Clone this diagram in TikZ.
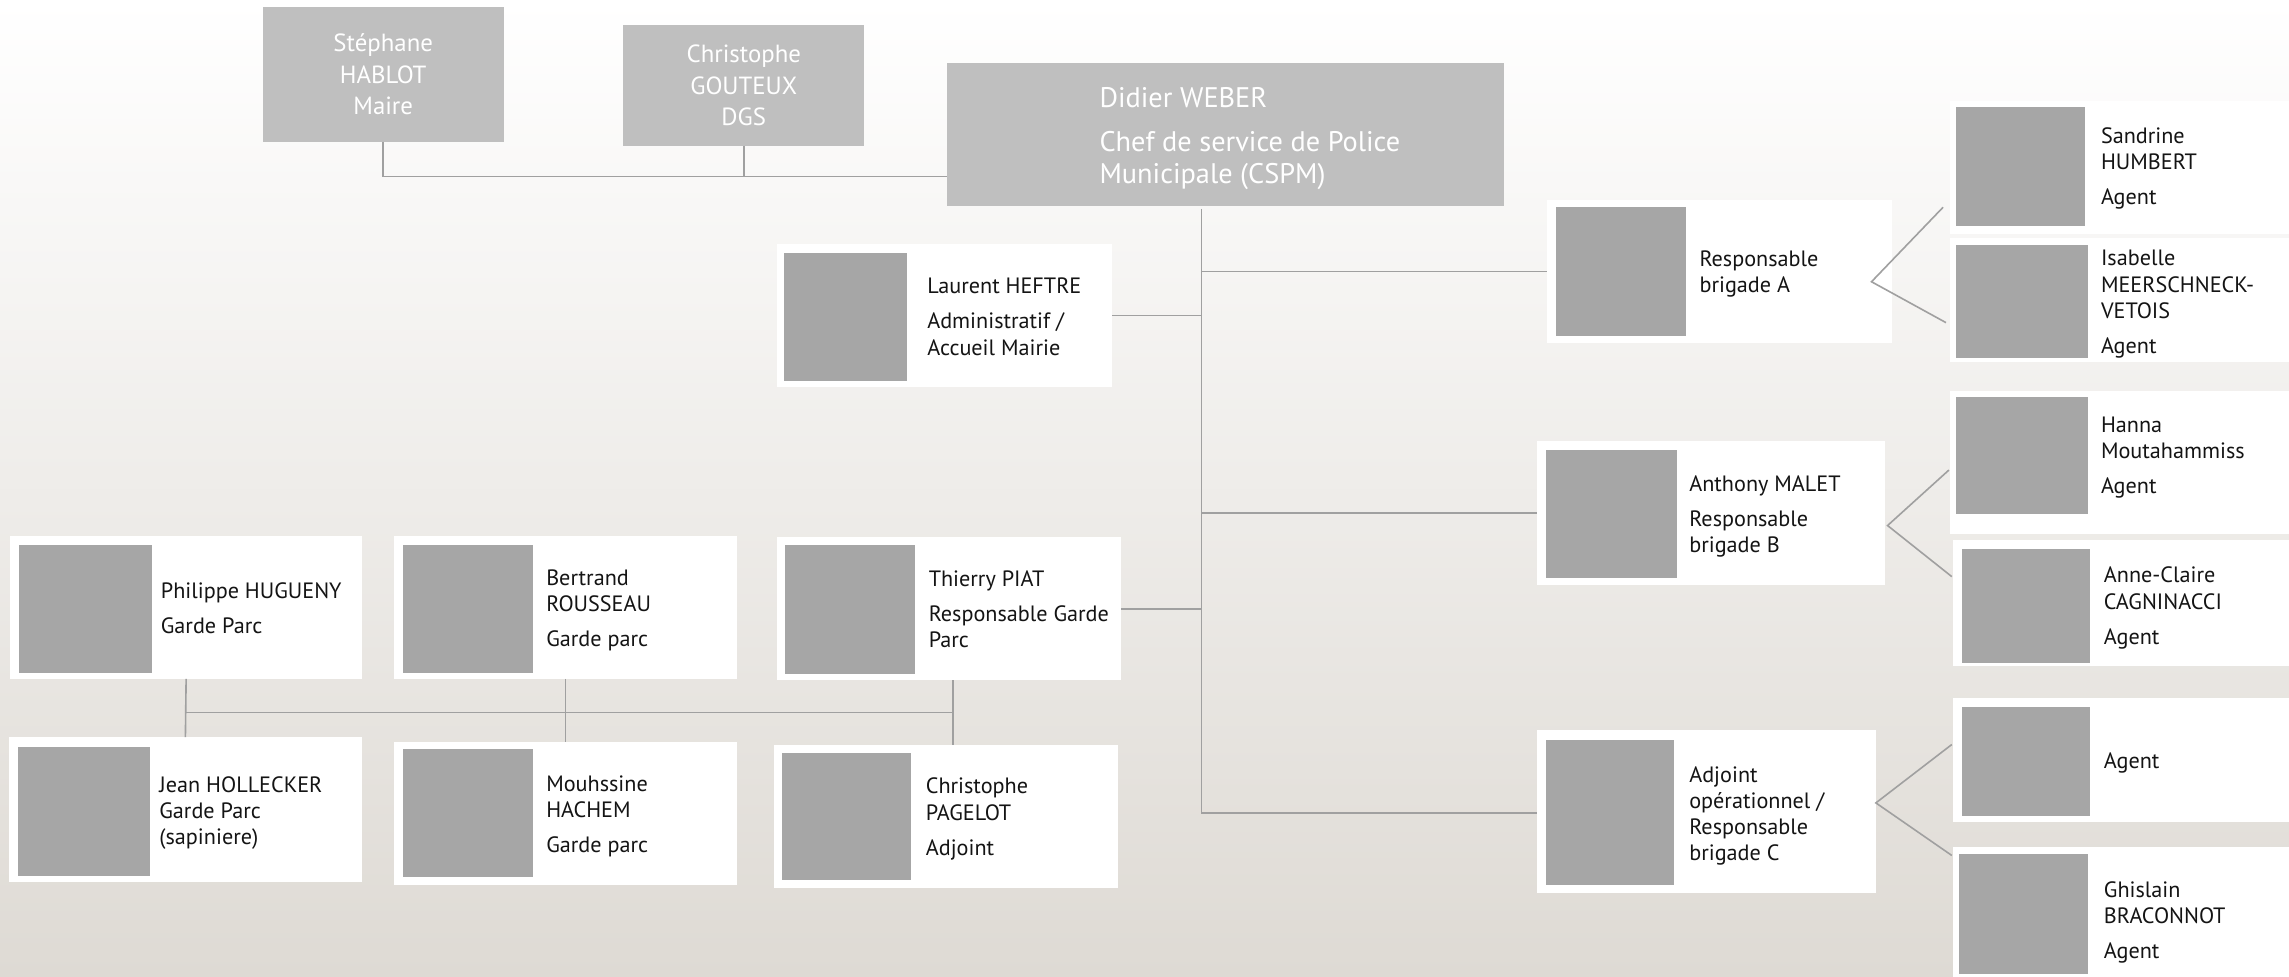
\documentclass[tikz,border=0pt]{standalone}
\usepackage{fontspec}
\setmainfont{PT Sans}
\definecolor{topgray}{RGB}{191,191,191}
\definecolor{photogray}{RGB}{166,166,166}
\definecolor{linegray}{RGB}{160,160,160}
\definecolor{bgbot}{RGB}{222,218,212}
\definecolor{bgmid}{RGB}{243,242,239}
\definecolor{ink}{RGB}{20,20,20}
\begin{document}
\begin{tikzpicture}[x=1pt,y=-1pt,
  card/.style={draw=none,fill=white,anchor=north west,inner sep=0pt,outer sep=0pt},
  photo/.style={draw=none,fill=photogray,anchor=north west,inner sep=0pt,outer sep=0pt},
  txt/.style={anchor=west,align=left,inner sep=0pt,text=ink,yshift=-3pt,
     font=\fontsize{15.2}{18}\selectfont,
     execute at begin node=\strut, execute at end node=\strut},
  topbox/.style={draw=none,fill=topgray,anchor=north west,inner sep=0pt,outer sep=0pt,
     text=white,align=center,font=\fontsize{17}{21.5}\selectfont},
  conn/.style={draw=linegray,line width=1.1pt}]
\useasboundingbox (0,0) rectangle (1568,669);
\shade[top color=white,middle color=bgmid,bottom color=bgbot] (0,0) rectangle (1568,669);

% top gray boxes
\node[topbox,minimum width=165pt,minimum height=92pt] (hab) at (180,5) {Stéphane\\HABLOT\\Maire};
\node[topbox,minimum width=165pt,minimum height=83pt] (gou) at (427,17) {Christophe\\GOUTEUX\\DGS};
\node[topbox,minimum width=381pt,minimum height=98pt] (web) at (649,43) {};
\node[anchor=west,align=left,inner sep=0pt,text=white,font=\fontsize{19.4}{22}\selectfont,
  execute at begin node=\strut, execute at end node=\strut] (webt) at (753,96)
  {Didier WEBER\\[8pt]Chef de service de Police\\Municipale (CSPM)};

% cards
\node[card,minimum width=230pt,minimum height=98pt] (lau) at (532,167) {};
\node[photo,minimum width=84pt,minimum height=88pt] (laup) at (537,173) {};
\node[txt] (laut) at (635,216.5) {Laurent HEFTRE\\[6pt]Administratif /\\Accueil Mairie};

\node[card,minimum width=236pt,minimum height=98pt] (bra) at (1060,137) {};
\node[photo,minimum width=89pt,minimum height=88pt] (brap) at (1066,142) {};
\node[txt] (brat) at (1164,186) {Responsable\\brigade A};

\node[card,minimum width=234pt,minimum height=91pt] (san) at (1336,69) {};
\node[photo,minimum width=88pt,minimum height=82pt] (sanp) at (1340,73) {};
\node[txt] (sant) at (1439,113.5) {Sandrine\\HUMBERT\\[6pt]Agent};

\node[card,minimum width=234pt,minimum height=85pt] (isa) at (1336,163) {};
\node[photo,minimum width=90pt,minimum height=77pt] (isap) at (1340,168) {};
\node[txt] (isat) at (1439,206.5) {Isabelle\\MEERSCHNECK-\\VETOIS\\[6pt]Agent};

\node[card,minimum width=238pt,minimum height=99pt] (ant) at (1053,302) {};
\node[photo,minimum width=90pt,minimum height=88pt] (antp) at (1059,308) {};
\node[txt] (antt) at (1157,352) {Anthony MALET\\[6pt]Responsable\\brigade B};

\node[card,minimum width=234pt,minimum height=98pt] (han) at (1336,268) {};
\node[photo,minimum width=90pt,minimum height=80pt] (hanp) at (1340,272) {};
\node[txt] (hant) at (1439,311.5) {Hanna\\Moutahammiss\\[6pt]Agent};

\node[card,minimum width=232pt,minimum height=86pt] (ann) at (1338,370) {};
\node[photo,minimum width=88pt,minimum height=78pt] (annp) at (1344,376) {};
\node[txt] (annt) at (1441,414.5) {Anne-Claire\\CAGNINACCI\\[6pt]Agent};

\node[card,minimum width=232pt,minimum height=112pt] (adj) at (1053,500) {};
\node[photo,minimum width=88pt,minimum height=99pt] (adjp) at (1059,507) {};
\node[txt] (adjt) at (1157,557) {Adjoint\\opérationnel /\\Responsable\\brigade C};

\node[card,minimum width=232pt,minimum height=85pt] (age) at (1338,478) {};
\node[photo,minimum width=88pt,minimum height=75pt] (agep) at (1344,484) {};
\node[txt] (aget) at (1441,520) {Agent};

\node[card,minimum width=232pt,minimum height=92pt] (ghi) at (1338,580) {};
\node[photo,minimum width=88pt,minimum height=82pt] (ghip) at (1342,585) {};
\node[txt] (ghit) at (1441,630) {Ghislain\\BRACONNOT\\[6pt]Agent};

\node[card,minimum width=241pt,minimum height=98pt] (phi) at (7,367) {};
\node[photo,minimum width=91pt,minimum height=88pt] (phip) at (13,373) {};
\node[txt] (phit) at (110,416.5) {Philippe HUGUENY\\[6pt]Garde Parc};

\node[card,minimum width=235pt,minimum height=98pt] (ber) at (270,367) {};
\node[photo,minimum width=89pt,minimum height=88pt] (berp) at (276,373) {};
\node[txt] (bert) at (374,416.5) {Bertrand\\ROUSSEAU\\[6pt]Garde parc};

\node[card,minimum width=236pt,minimum height=98pt] (thi) at (532,368) {};
\node[photo,minimum width=89pt,minimum height=89pt] (thip) at (538,373) {};
\node[txt] (thit) at (636,417) {Thierry PIAT\\[6pt]Responsable Garde\\Parc};

\node[card,minimum width=242pt,minimum height=99pt] (jea) at (6,505) {};
\node[photo,minimum width=91pt,minimum height=88pt] (jeap) at (12,512) {};
\node[txt] (jeat) at (109,555) {Jean HOLLECKER\\Garde Parc\\(sapiniere)};

\node[card,minimum width=235pt,minimum height=98pt] (mou) at (270,508) {};
\node[photo,minimum width=89pt,minimum height=88pt] (moup) at (276,513) {};
\node[txt] (mout) at (374,557.5) {Mouhssine\\HACHEM\\[6pt]Garde parc};

\node[card,minimum width=236pt,minimum height=98pt] (pag) at (530,510) {};
\node[photo,minimum width=88pt,minimum height=87pt] (pagp) at (536,516) {};
\node[txt] (pagt) at (634,559) {Christophe\\PAGELOT\\[6pt]Adjoint};

% junction coordinates
\coordinate (j0) at (649,121);
\coordinate (v0) at (823,143);
\coordinate (v1) at (823,557);
\coordinate (h0) at (0,488);
\coordinate (fa) at (1282,193);
\coordinate (fa1) at (1331,142);
\coordinate (fa2) at (1333,221);
\coordinate (fb) at (1293,360);
\coordinate (fb1) at (1335,322);
\coordinate (fb2) at (1337,395);
\coordinate (fc) at (1285,550);
\coordinate (fc1) at (1337,510);
\coordinate (fc2) at (1337,586);

% connectors
\draw[conn] (hab.south) |- (j0);
\draw[conn] (gou.south) -- (gou.south |- j0);
\draw[conn] (v0) -- (v1);
\draw[conn] (v0 |- bra.west) -- (bra.west);
\draw[conn] (lau.east) -- (lau.east -| v0);
\draw[conn] (v0 |- ant.west) -- (ant.west);
\draw[conn] (thi.east) -- (thi.east -| v0);
\draw[conn] (v1) -- (v1 -| adj.west);
\draw[conn] (fa1) -- (fa) -- (fa2);
\draw[conn] (fb1) -- (fb) -- (fb2);
\draw[conn] (fc1) -- (fc) -- (fc2);
\draw[conn] (phi.south) -- (jea.north);
\draw[conn] (ber.south) -- (mou.north);
\draw[conn] ([xshift=3pt]thi.south) -- ([xshift=5pt]pag.north);
\draw[conn] (phi.south |- h0) -- ([xshift=3pt]thi.south |- h0);
\end{tikzpicture}
\end{document}
